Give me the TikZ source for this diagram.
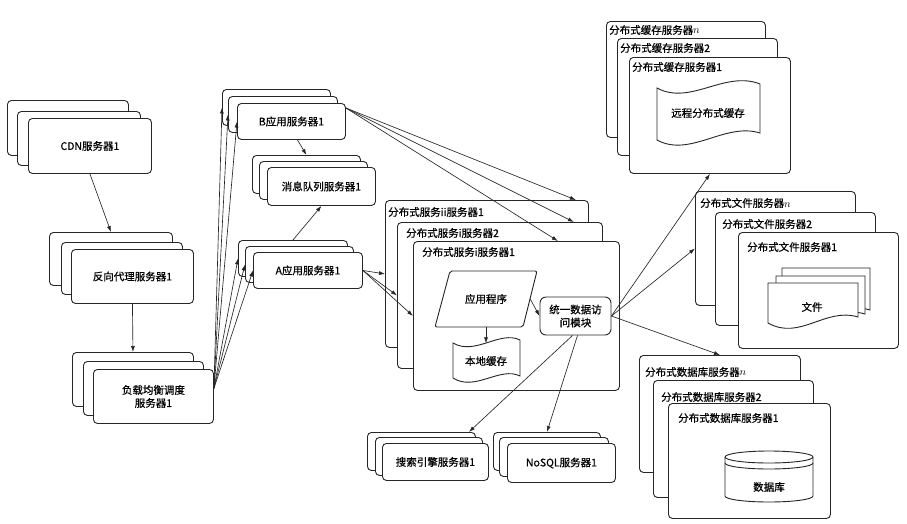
\documentclass[tikz,border=0pt]{standalone}
\usepackage{fontspec}
\setmainfont{Noto Sans CJK SC}[AutoFakeBold=0.6]
\usetikzlibrary{arrows.meta,calc}
\tikzset{
 box/.style={draw=black!85,line width=0.9pt,rounded corners=4pt,fill=white,inner sep=1pt,align=center,font=\fontsize{10.5}{13}\selectfont\bfseries},
 lbl/.style={inner sep=0pt,font=\fontsize{10.5}{12}\selectfont\bfseries},
 txt/.style={inner sep=0pt,align=center,font=\fontsize{10.5}{13}\selectfont\bfseries},
 arr/.style={draw=black!85,line width=0.65pt,-{Latex[length=6pt,width=4pt]}},
 shp/.style={draw=black!85,line width=0.9pt,fill=white},
}
\newcommand\mkbox[6]{\node[box,anchor=north west,minimum width={(#4-#2)*1pt},minimum height={(#5-#3)*1pt}] (#1) at (#2,#3) {#6};}
\newcommand\mklbl[4]{\node[lbl,anchor=west] (#1t) at ([xshift=#2pt,yshift=-#3pt]#1.north west) {#4};}
\begin{document}
\begin{tikzpicture}[x=1pt,y=-1pt]
\useasboundingbox (0,0) rectangle (907,523);
% CDN
\mkbox{cdn3}{7}{100}{128}{155}{}
\mkbox{cdn2}{17}{111}{140}{165}{}
\mkbox{cdn1}{28}{118}{151}{173}{CDN服务器1}
% proxy
\mkbox{px3}{49}{232}{172}{285}{}
\mkbox{px2}{61}{242}{182}{294}{}
\mkbox{px1}{71}{249}{193}{303}{反向代理服务器1}
% load balancer
\mkbox{lb3}{72}{352}{193}{406}{}
\mkbox{lb2}{83}{361}{203}{415}{}
\mkbox{lb1}{93}{369}{213}{423}{负载均衡调度\\服务器1}
% B app
\mkbox{bb3}{222}{89}{330}{125}{}
\mkbox{bb2}{228}{96}{337}{132}{}
\mkbox{bb1}{237}{103}{345}{139}{B应用服务器1}
% MQ
\mkbox{mq3}{252}{155}{360}{193}{}
\mkbox{mq2}{259}{161}{367}{199}{}
\mkbox{mq1}{267}{167}{375}{205}{消息队列服务器1}
% A app
\mkbox{aa3}{238}{240}{347}{276}{}
\mkbox{aa2}{245}{246}{353}{282}{}
\mkbox{aa1}{253}{252}{362}{288}{A应用服务器1}
% distributed service
\mkbox{sv3}{385}{200}{588}{347}{}
\mklbl{sv3}{3}{12}{分布式服务ii服务器1}
\mkbox{sv2}{397}{222}{602}{368}{}
\mklbl{sv2}{9}{11}{分布式服务i服务器2}
\mkbox{sv1}{413}{241}{619}{390}{}
\mklbl{sv1}{9}{11}{分布式服务i服务器1}
% app program (parallelogram)
\draw[shp,rounded corners=2pt] (450,271) -- (537,271) -- (523,327) -- (435,327) -- cycle;
\node[txt,minimum width=88pt,minimum height=56pt] (app) at (486,299) {应用程序};
% local cache
\draw[shp] (453,343) .. controls (475,356) and (500,330) .. (520,340) -- (520,376)
  .. controls (500,366) and (475,392) .. (453,378) -- cycle;
\node[txt,minimum width=67pt,minimum height=35pt] (lc) at (486,361) {本地缓存};
% unified data access module
\node[box,rounded corners=6pt,minimum width=71pt,minimum height=38pt] (mod) at (575.5,316) {统一数据访\\问模块};
% cache servers
\mkbox{kc3}{606}{21}{765}{137}{}
\mklbl{kc3}{3}{9}{分布式缓存服务器$n$}
\mkbox{kc2}{617}{38}{777}{155}{}
\mklbl{kc2}{3}{10}{分布式缓存服务器2}
\mkbox{kc1}{629}{57}{790}{173}{}
\mklbl{kc1}{3}{10}{分布式缓存服务器1}
\draw[shp] (657,88) .. controls (690,106) and (725,70) .. (760,84) -- (760,133)
  .. controls (725,122) and (690,158) .. (657,140) -- cycle;
\node[txt] (rc) at (708,113) {远程分布式缓存};
% file servers
\mkbox{fs3}{695}{191}{855}{305}{}
\mklbl{fs3}{5}{12}{分布式文件服务器$n$}
\mkbox{fs2}{715}{212}{875}{325}{}
\mklbl{fs2}{7}{12}{分布式文件服务器2}
\mkbox{fs1}{738}{232}{898}{348}{}
\mklbl{fs1}{9}{15}{分布式文件服务器1}
\draw[shp] (782,268) -- (870,268) -- (870,310) .. controls (838,300) and (814,334) .. (782,316) -- cycle;
\draw[shp] (776,276) -- (865,276) -- (865,314) .. controls (832,304) and (808,338) .. (776,320) -- cycle;
\draw[shp] (768,283) -- (858,283) -- (858,317) .. controls (825,307) and (800,341) .. (768,323) -- cycle;
\node[txt] (doc) at (812,307) {文件};
% database servers
\mkbox{db3}{639}{355}{800}{472}{}
\mklbl{db3}{6}{17}{分布式数据库服务器$n$}
\mkbox{db2}{653}{380}{813}{497}{}
\mklbl{db2}{8}{17}{分布式数据库服务器2}
\mkbox{db1}{668}{403}{830}{518}{}
\mklbl{db1}{10}{15}{分布式数据库服务器1}
\draw[shp] (725,457) -- (725,496) arc[start angle=180,end angle=360,x radius=44pt,y radius=6pt]
  -- (813,457) arc[start angle=0,end angle=180,x radius=44pt,y radius=6pt] -- cycle;
\draw[draw=black!85,line width=0.9pt] (725,457) arc[start angle=180,end angle=360,x radius=44pt,y radius=6pt];
\draw[draw=black!85,line width=0.9pt] (725,463) arc[start angle=180,end angle=360,x radius=44pt,y radius=6pt];
\node[txt] (dbt) at (769,487) {数据库};
% search / nosql
\mkbox{se3}{367}{432}{475}{470}{}
\mkbox{se2}{375}{437}{482}{475}{}
\mkbox{se1}{382}{443}{488}{480}{搜索引擎服务器1}
\mkbox{ns3}{493}{432}{600}{470}{}
\mkbox{ns2}{499}{437}{608}{476}{}
\mkbox{ns1}{507}{443}{615}{482}{NoSQL服务器1}
% connectors
\draw[arr] (cdn1.south) -- (px3.north);
\draw[arr] (px1.south) -- (lb3.north);
\coordinate (lbo) at ([yshift=8pt]lb1.east);
\foreach \t in {bb3,bb2,bb1,aa3,aa2,aa1} \draw[arr] (lbo) -- (\t.west);
\draw[arr] ([xshift=6pt]bb1.south) -- (mq3.north);
\draw[arr] (aa3.north) -- (mq1.south);
\coordinate (bo) at ([yshift=-5pt]bb1.north east);
\draw[arr] (bo) -- ([xshift=-13pt]sv3.north east);
\draw[arr] (bo) -- ([xshift=-29pt]sv2.north east);
\draw[arr] (bo) -- ([xshift=-62pt]sv1.north east);
\draw[arr] (aa1.east) -- (sv3.west);
\draw[arr] (aa1.east) -- (sv2.west);
\draw[arr] (aa1.east) -- (sv1.west);
\draw[arr] (app.south) -- (lc.north);
\draw[arr] (app.east) -- (mod.west);
\draw[arr] (mod.east) -- (kc1.south);
\draw[arr] (mod.east) -- (fs3.west);
\draw[arr] (mod.east) -- (db3.north);
\draw[arr] ([xshift=-3pt]mod.south) -- ([xshift=-7pt]se3.north east);
\draw[arr] ([xshift=2pt]mod.south) -- (ns3.north);
\end{tikzpicture}
\end{document}
